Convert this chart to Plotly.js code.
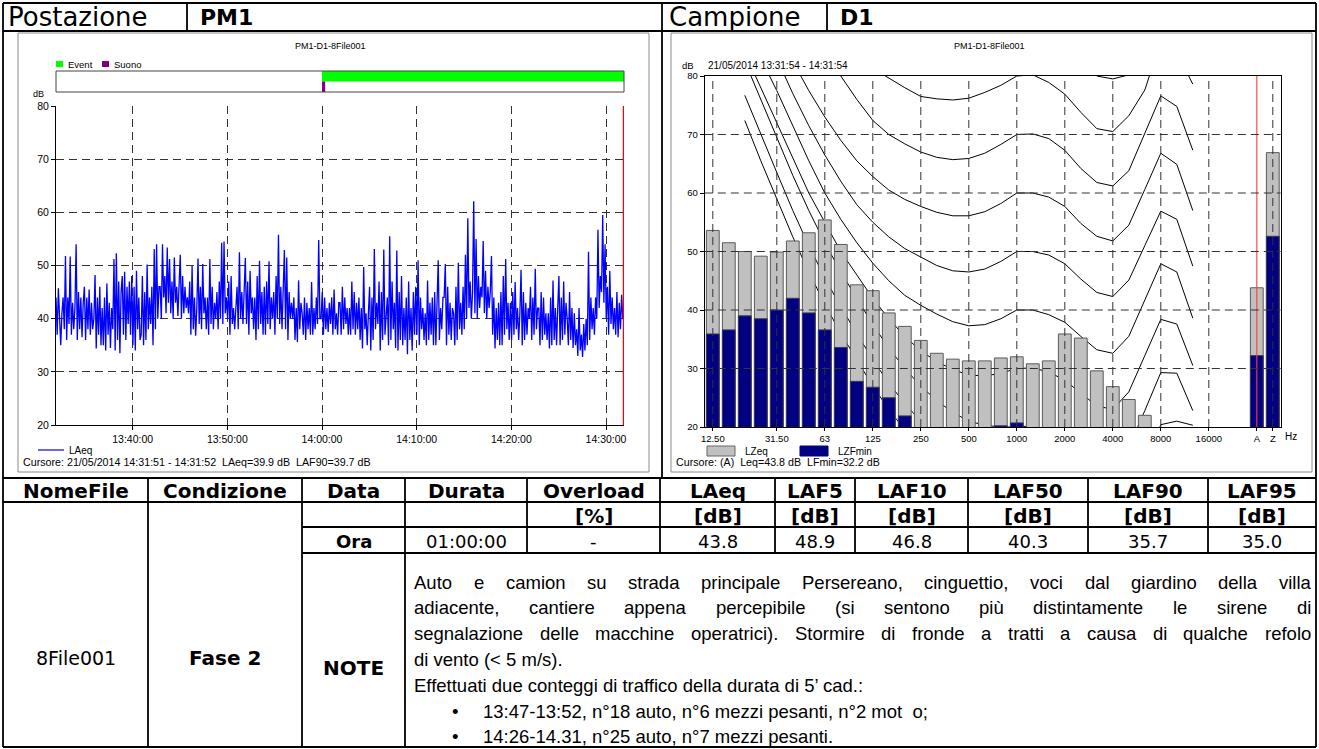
<!DOCTYPE html>
<html><head><meta charset="utf-8">
<script src="https://cdn.plot.ly/plotly-3.0.1.min.js"></script>
<style>html,body{margin:0;padding:0;background:#fff}#chart{width:1319px;height:749px}</style>
</head><body><div id="chart"></div>
<script>
// ---------------- DATA ----------------
const seriesStart = '2014-05-21 13:31:54';
const seriesStepSec = 7.5;
const cursorTime = '2014-05-21 14:31:51';
const eventStart = '2014-05-21 14:00:00';
const eventEnd = '2014-05-21 14:31:54';
const suonoStart = '2014-05-21 14:00:00';
const suonoEnd = '2014-05-21 14:00:20';
const timeTicks = ['13:40:00','13:50:00','14:00:00','14:10:00','14:20:00','14:30:00'];
const dbTicks = [20,30,40,50,60,70,80];
const laeq = [
44,37,45.7,38,35,41,44,38, 51.8,36,44,39,51.7,37,43,38, 42,54,36,45,38,44,36.5,43, 46,36,44,38,45.5,37,43,38,
40,48.2,34.4,44,37,46,35,42, 35,44,34,46.6,37,43,34.5,42, 38,51.2,34,52.3,36,47,33.5,45, 48,37,48.8,36,46,39,47,37,
48,35,46,34,49,38,44,36, 37,48,35,45,36,50.2,38,44, 39,46,35,53.1,38,54,40,46, 46,40,54,44,48,41,53.4,43,
51.2,41,47,40,51.5,43,46,40.5, 45,52,40,48,41,46,42,44, 41,47,37,49.9,38,44,36.8,42, 51.3,39,46,38,50.3,41,44,38,
44,37,51.2,39,46,38,43,40, 45,38,47,40,54.3,39,54.5,41, 44,40,47,37,48,39,42,38, 42,46,38,52.5,40,45,39,44,
51.4,39,47,37,49,41,44,38, 44,36,48,38,50.9,39,45,37, 46,37,47,39,50.8,38,44,40, 45,37,48,40,55.8,39,46,38,
44,52.9,38,51.5,36,45,40,43, 40,44,36,42,35.6,47.2,38,43, 41,37,44,36,43,38,42,37, 46.9,37,42,38,44,39,54.8,40,
40,45,37,44,38,42,37.5,43, 39,44,37,45.5,38,41,37,43, 43,37,46,38,44,39,42,37, 42,37,47,38,45,37,43,38,
44,36,42,34.4,49.7,38,41,35, 41,46,34,44,36,53.1,38,43, 39,47,34,45,36,53,37,42, 44,35,55.5,36,47,38,43,34.5,
52.8,34,45,36,48,35,42,36, 44,33.3,47,36,42,34,45,37, 46,37,51,35,44,38,42,36, 41,35,47.2,36,43,37,44,35,
45,35,46,51,36,42,38,44, 44,50.3,35,46,37,43,36,42, 41,35,46,36,50.5,38,43,37, 46,38,52,40,58.9,42,47,40,
45,62.1,41,55,40,48,42,46, 44,54.6,41,49,40,46,42,45, 51.8,37,44,34.4,42,36,43,35, 45,35,48,37,51.2,38,43,36,
43,36,45,37,46.9,38,42,36, 41,49.2,35,45,36,43,37,42, 40,46,36,44,37,49.4,38,42, 42,35,45,36,44,37,41,36,
41,34.4,44,35,47.2,36,42,35, 42,48,35,44,36,47,37,43, 40,35,45,36,42,34.5,41,35, 38,33,42,34,37,32.8,39,34,
40,35,52.6,36,44,38,42,37, 44,40,56.7,42,48,45,59.5,43, 54,40,46,37,49,39,44,38, 42,37,45,36.5,43,38,44.5,39.9
];

const bands = ['12.5','16','20','25','31.5','40','50','63','80','100','125','160','200','250','315','400','500','630','800','1000','1250','1600','2000','2500','3150','4000','5000','6300','8000','10000','12500','16000','20000'];
const lzeq   = [53.6,51.5,50.0,49.2,49.9,51.8,53.2,55.4,51.2,44.3,43.3,39.5,37.2,34.8,32.6,31.6,31.3,31.3,31.8,32.0,30.8,31.3,35.9,35.2,29.6,26.9,24.7,22.0,19.0,18.0,17.0,16.0,15.0];
const lzfmin = [35.9,36.6,39.0,38.5,40.0,42.0,39.5,36.6,33.6,27.8,26.8,25.0,21.9,19.5,19.0,18.5,18.5,19.0,20.2,20.7,19.0,18.5,19.0,18.5,17.0,16.0,15.0,14.0,13.0,12.0,11.0,10.0,9.0];
const totalLabels = ['A','Z'];
const totalLeq = [43.8,66.9];
const totalFmin = [32.2,52.6];
const cursorBand = 'A';
const tickBands = ['12.5','31.5','63','125','250','500','1000','2000','4000','8000','16000','A','Z'];
const tickBandText = ['12.50','31.50','63','125','250','500','1000','2000','4000','8000','16000','A','Z'];
const gridBands = ['12.5','31.5','63','125','250','500','1000','2000','4000','8000','16000','Z'];
// equal loudness contours, 20 Hz .. 12500 Hz
const isoBands = bands.slice(2,31);
const isoThr = [72.4,65.5,59,52.5,46.5,41,36,31.5,27,23,19.5,16.5,14,12,10.5,9,7.5, 6,6.2,5.5,4.2,2.5,0.5,0,3,9,14,15,15];
const iso10 = [76.7,70,63.5,57,51,45.5,40.5,36,31.5,27.5,24,21,18.5,16,14,12.5,11, 10,10.2,9.5,8.3,6.5,4.6,4.0,7.0,13.5,20.4,21.0,20.3];
const iso20 = [82.5,76,69.5,63,57,51.5,46.5,42,37.5,33.5,30,27,24.5,22.5,21,20.3,20, 20,20.2,19.5,18.2,16.2,14.2,13.5,16.5,22.8,29.3,29.2,22.8];
const iso30 = [84,78,72,66,60,55,50,46,42,38.5,35.5,33,31.2,29.8,28.9,28.7,29.2, 30,30.1,29.4,28.0,25.8,23.6,23.0,26.0,32.2,38.4,37.6,30.5];
const iso40 = [89,83,77.5,71.5,65.5,60,55.5,51.5,48,45,42.5,40.8,39.3,38,37.3,37.5,38.5, 40,40.0,39.2,37.9,35.5,33.2,32.6,35.5,41.7,47.9,46.5,38.6];
const iso50 = [95,89,83,77,71.5,66.5,62,58,55,52.5,50.5,49.0,47.6,46.7,46.5,47.0,48.3, 50,50.0,49.4,47.9,45.3,43.0,42.3,45.1,51.0,56.9,55.5,47.5];
const iso60 = [97,92,87,82.5,77.5,73,69,65.5,62.8,60.5,58.9,57.7,56.7,56.1,56.1,56.8,58.2, 60,60.0,59.3,57.7,54.8,52.6,51.8,54.5,60.6,66.8,64.9,57.0];
const iso70 = [104,100,96,92,88,84,80,76,72.4,70.0,68.4,67.0,66.1,65.7,65.9,66.8,68.3, 70,70.1,69.3,67.3,64.2,61.8,61.2,63.8,70.2,76.6,74.8,67.3];
const iso80 = [108,104.5,101,97.5,94,91,87.5,84,81.3,79.6,78.0,76.5,76.1,75.9,76.2,77.2,78.4, 80,80.2,78.9,76.9,73.8,71.0,70.5,73.2,77.6,86,84,78.6];
const iso90 = [115,112,109,106,103,100.5,98,96,94,92.5,91,89.5,88.5,88,87.8,88.3,89, 90,90.2,89.2,87.2,83.5,80,79.5,80.2,88,95,93.5,86.5];

// table
const headerLeft = ['Postazione','PM1'];
const headerRight = ['Campione','D1'];
const colHeaders = ['NomeFile','Condizione','Data','Durata','Overload','LAeq','LAF5','LAF10','LAF50','LAF90','LAF95'];
const colUnits = ['','','','','[%]','[dB]','[dB]','[dB]','[dB]','[dB]','[dB]'];
const rowOra = ['','','Ora','01:00:00','-','43.8','48.9','46.8','40.3','35.7','35.0'];
const nomeFile = '8File001';
const condizione = 'Fase 2';
const noteLabel = 'NOTE';
const noteJustified = [
 'Auto e camion su strada principale Persereano, cinguettio, voci dal giardino della villa',
 'adiacente, cantiere appena percepibile (si sentono più distintamente le sirene di',
 'segnalazione delle macchine operatrici). Stormire di fronde a tratti a causa di qualche refolo'
];
const notePlain = ['di vento (&lt; 5 m/s).','Effettuati due conteggi di traffico della durata di 5’ cad.:'];
const noteBullets = ['13:47-13:52, n°18 auto, n°6 mezzi pesanti, n°2 mot  o;','14:26-14.31, n°25 auto, n°7 mezzi pesanti.'];
const chartTitle = 'PM1-D1-8File001';
const leftCursorText = 'Cursore: 21/05/2014 14:31:51 - 14:31:52  LAeq=39.9 dB  LAF90=39.7 dB';
const rightCursorText = 'Cursore: (A)  Leq=43.8 dB  LFmin=32.2 dB';
const rightPeriod = '21/05/2014 13:31:54 - 14:31:54';

// ---------------- LAYOUT HELPERS ----------------
const W = 1319, H = 749;
const FONT = '"Liberation Sans", Arial, sans-serif';
const FONTW = '"DejaVu Sans", Verdana, sans-serif';
const px = v => v / W;
const py = v => 1 - v / H;
const shapes = [];
const ann = [];
function line(x0, y0, x1, y1, color, width) {
  shapes.push({type:'line', xref:'paper', yref:'paper', x0:px(x0), y0:py(y0), x1:px(x1), y1:py(y1), line:{color:color, width:width}});
}
function rect(x0, y0, x1, y1, fill, lc, lw) {
  shapes.push({type:'rect', xref:'paper', yref:'paper', x0:px(x0), y0:py(y0), x1:px(x1), y1:py(y1), fillcolor:fill, line:{color:lc, width:lw}});
}
function txt(x, y, text, size, opts) {
  opts = opts || {};
  ann.push({xref:'paper', yref:'paper', x:px(x), y:py(y), text:text, showarrow:false,
    xanchor:opts.xanchor||'center', yanchor:'middle', borderpad:0,
    font:{family:opts.family||FONT, size:size, color:opts.color||'#000', weight:opts.bold?'bold':'normal'}});
}

// ---------- outer table geometry ----------
const TL = 3, TR = 1316, TOP = 3, HDR = 31, CH_BOT = 478;
const cols = [TL,148,302,405,527,660,775,855,968,1088,1208,TR];
const rows = [CH_BOT,502,527,553,747];
const LW = 1.8;
line(TL,TOP,TR,TOP,'#000',LW); line(TL,HDR,TR,HDR,'#000',LW);
line(TL,TOP,TL,747,'#000',LW); line(TR,TOP,TR,747,'#000',LW);
line(662,TOP,662,CH_BOT,'#000',LW);
line(187,TOP,187,HDR,'#000',LW); line(827,TOP,827,HDR,'#000',LW);
const hy = (TOP+HDR)/2 + 0.5;
txt(7,hy,headerLeft[0],26,{xanchor:'left',family:FONTW}); txt(199,hy,headerLeft[1],22,{bold:true,xanchor:'left',family:FONTW});
txt(668,hy,headerRight[0],26,{xanchor:'left',family:FONTW}); txt(839,hy,headerRight[1],22,{bold:true,xanchor:'left',family:FONTW});
line(TL,rows[0],TR,rows[0],'#000',LW);
line(TL,rows[1],TR,rows[1],'#000',LW);
line(cols[2],rows[2],TR,rows[2],'#000',LW);
line(cols[2],rows[3],TR,rows[3],'#000',LW);
line(TL,rows[4],TR,rows[4],'#000',LW);
for (let c = 1; c < cols.length-1; c++) {
  const yEnd = c <= 3 ? rows[4] : rows[3];
  line(cols[c],rows[0],cols[c],yEnd,'#000',LW);
}
for (let c = 0; c < colHeaders.length; c++) {
  const cx = (cols[c]+cols[c+1])/2;
  txt(cx,(rows[0]+rows[1])/2+1,colHeaders[c],20,{bold:true,family:FONTW});
  if (colUnits[c]) txt(cx,(rows[1]+rows[2])/2+1,colUnits[c],20,{bold:true,family:FONTW});
  if (rowOra[c]) txt(cx,(rows[2]+rows[3])/2+1,rowOra[c],18,{bold:c===2,family:FONTW});
}
txt((cols[0]+cols[1])/2,658,nomeFile,19,{family:FONTW});
txt((cols[1]+cols[2])/2,658,condizione,20,{bold:true,family:FONTW});
txt((cols[2]+cols[3])/2,668,noteLabel,20,{bold:true,family:FONTW});
// notes (justified lines)
const NOTE_SIZE = 18.5;
const ctx = document.createElement('canvas').getContext('2d');
ctx.font = NOTE_SIZE + 'px "Liberation Sans"';
const noteX0 = 413, noteX1 = 1310, noteY0 = 582, noteDY = 25.8;
noteJustified.forEach((ln, k) => {
  const words = ln.split(' ');
  const widths = words.map(w => ctx.measureText(w).width);
  const total = widths.reduce((a,b)=>a+b,0);
  const gap = (noteX1-noteX0-total)/(words.length-1);
  let x = noteX0;
  words.forEach((w,j) => { txt(x,noteY0+k*noteDY,w,NOTE_SIZE,{xanchor:'left'}); x += widths[j]+gap; });
});
notePlain.forEach((ln,k) => txt(noteX0,noteY0+(3+k)*noteDY,ln,NOTE_SIZE,{xanchor:'left'}));
noteBullets.forEach((ln,k) => {
  txt(455,noteY0+(5+k)*noteDY,'•',NOTE_SIZE);
  txt(482,noteY0+(5+k)*noteDY,ln,NOTE_SIZE,{xanchor:'left'});
});

// ---------- chart frames ----------
rect(18,33,649,472,'rgba(0,0,0,0)','#8c8c8c',1);
rect(671,33,1312,472,'rgba(0,0,0,0)','#8c8c8c',1);
txt(330,46,chartTitle,9); txt(990,46,chartTitle,9);

// left chart texts
const LX0 = 56, LX1 = 624;
txt(38,94,'dB',9);
rect(56,61,63,67,'#00ff00','#00ff00',0); txt(67,64,'Event',9.5,{xanchor:'left'});
rect(102,61,109,67,'#800080','#800080',0); txt(113,64,'Suono',9.5,{xanchor:'left'});
rect(LX0,71,LX1,92,'rgba(0,0,0,0)','#444',1);
line(38,450,64,450,'#0000ff',1.2); txt(68,450,'LAeq',10,{xanchor:'left'});
txt(22,462,leftCursorText,10.7,{xanchor:'left'});

// right chart texts
const RX0 = 704.8, RX1 = 1280.8;
txt(688,65,'dB',9.5); txt(707,65,rightPeriod,10,{xanchor:'left'});
rect(707,446,735,456,'#c0c0c0','#666',1); txt(744,451,'LZeq',10,{xanchor:'left'});
rect(800,446,828,456,'#000080','#000080',1); txt(837,451,'LZFmin',10,{xanchor:'left'});
txt(675,462,rightCursorText,10.7,{xanchor:'left'});
txt(1291,436,'Hz',10);

// ---------------- TRACES ----------------
const t0 = new Date(seriesStart.replace(' ','T')+'Z').getTime();
const fmt = ms => new Date(ms).toISOString().replace('T',' ').slice(0,23);
const tx = laeq.map((v,k) => fmt(t0 + k*seriesStepSec*1000));
const day = seriesStart.slice(0,10);
const tEnd = fmt(t0 + 3600*1000);

const traces = [];
traces.push({type:'scatter', mode:'lines', x:tx, y:laeq, xaxis:'x', yaxis:'y', line:{color:'#0000ff', width:1.3}, hoverinfo:'skip'});
traces.push({type:'scatter', mode:'lines', x:[cursorTime,cursorTime], y:[dbTicks[0],dbTicks[dbTicks.length-1]], xaxis:'x', yaxis:'y', line:{color:'#ff0000', width:1.5}});
traces.push({type:'scatter', mode:'lines', x:[eventStart,eventEnd,eventEnd,eventStart], y:[1,1,2,2], fill:'toself', fillcolor:'#00ff00', line:{width:0,color:'#00ff00'}, xaxis:'x2', yaxis:'y2'});
traces.push({type:'scatter', mode:'lines', x:[suonoStart,suonoEnd,suonoEnd,suonoStart], y:[0,0,1,1], fill:'toself', fillcolor:'#800080', line:{width:0,color:'#800080'}, xaxis:'x2', yaxis:'y2'});

const isoX = isoBands.map(b => bands.indexOf(b));
[isoThr,iso10,iso20,iso30,iso40,iso50,iso60,iso70,iso80,iso90].forEach(arr => {
  traces.push({type:'scatter', mode:'lines', x:isoX, y:arr, xaxis:'x3', yaxis:'y3', line:{color:'#000', width:1}, hoverinfo:'skip'});
});
const barX = bands.map((b,k)=>k).concat(totalLabels.map((b,k)=>bands.length+1+k));
traces.push({type:'bar', x:barX, y:lzeq.concat(totalLeq), width:0.8, xaxis:'x4', yaxis:'y4', marker:{color:'#c0c0c0', line:{color:'#5a5a5a', width:1}}});
traces.push({type:'bar', x:barX, y:lzfmin.concat(totalFmin), width:0.8, xaxis:'x4', yaxis:'y4', marker:{color:'#000080', line:{color:'#3a3a5a', width:1}}});
const bandPos = b => { const k = bands.indexOf(b); return k >= 0 ? k : bands.length+1+totalLabels.indexOf(b); };
const curX = bandPos(cursorBand);
traces.push({type:'scatter', mode:'lines', x:[curX,curX], y:[dbTicks[0],dbTicks[dbTicks.length-1]], xaxis:'x4', yaxis:'y4', line:{color:'rgba(255,60,60,0.85)', width:1.3}});

const xMin = -0.5, xMax = bands.length + totalLabels.length + 0.5;
const DASH = '8px,5px';
gridBands.forEach(b => {
  const x = bandPos(b);
  shapes.push({type:'line', xref:'x3', yref:'y3', x0:x, x1:x, y0:dbTicks[0], y1:dbTicks[dbTicks.length-1], layer:'above', line:{color:'#333', width:1, dash:DASH}});
});
dbTicks.slice(1,-1).forEach(v => {
  shapes.push({type:'line', xref:'x3', yref:'y3', x0:xMin, x1:xMax, y0:v, y1:v, layer:'above', line:{color:'#333', width:1, dash:DASH}});
});

const tickFont = {family:FONT, size:10.5, color:'#000'};
const tickFontR = {family:FONT, size:9.5, color:'#000'};
const layout = {
  width:W, height:H, margin:{l:0,r:0,t:0,b:0}, showlegend:false,
  paper_bgcolor:'#fff', plot_bgcolor:'rgba(0,0,0,0)', barmode:'overlay',
  xaxis:{domain:[px(LX0),px(LX1)], anchor:'y', type:'date', range:[seriesStart, tEnd],
    tickvals:timeTicks.map(t=>day+' '+t), ticktext:timeTicks, ticks:'outside', ticklen:4, tickcolor:'#000',
    tickfont:tickFont, showgrid:true, gridcolor:'#333', griddash:DASH, gridwidth:1, showline:true, linecolor:'#000', linewidth:1, zeroline:false},
  yaxis:{domain:[py(425),py(106)], anchor:'x', range:[20,80], tickvals:dbTicks, ticks:'outside', ticklen:4, tickcolor:'#000',
    tickfont:tickFont, showgrid:true, gridcolor:'#333', griddash:DASH, gridwidth:1, showline:true, linecolor:'#000', linewidth:1, zeroline:false},
  xaxis2:{domain:[px(LX0),px(LX1)], anchor:'y2', type:'date', range:[seriesStart, tEnd], visible:false},
  yaxis2:{domain:[py(92),py(71)], anchor:'x2', range:[0,2], visible:false},
  xaxis3:{domain:[px(RX0),px(RX1)], anchor:'y3', range:[xMin,xMax], tickvals:tickBands.map(bandPos), ticktext:tickBandText,
    ticks:'outside', ticklen:3, tickcolor:'#000', tickfont:tickFontR, showgrid:false, showline:true, linecolor:'#000', linewidth:1, mirror:true, zeroline:false},
  yaxis3:{domain:[py(427),py(76)], anchor:'x3', range:[20,80], tickvals:dbTicks, ticks:'outside', ticklen:4, tickcolor:'#000',
    tickfont:tickFontR, showgrid:false, showline:true, linecolor:'#000', linewidth:1, mirror:true, zeroline:false},
  xaxis4:{overlaying:'x3', anchor:'y4', range:[xMin,xMax], visible:false},
  yaxis4:{overlaying:'y3', anchor:'x4', range:[20,80], visible:false},
  shapes:shapes, annotations:ann
};
Plotly.newPlot('chart', traces, layout, {staticPlot:true, displayModeBar:false});
</script></body></html>
